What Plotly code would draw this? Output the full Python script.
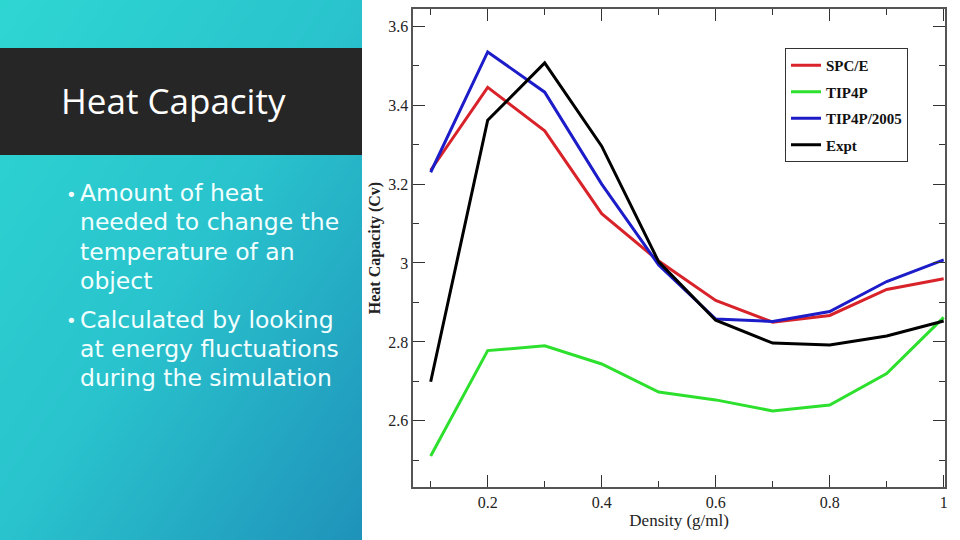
import plotly.graph_objects as go

W, H = 960, 540

density = [0.1, 0.2, 0.3, 0.4, 0.5, 0.6, 0.7, 0.8, 0.9, 1.0]
spce = [3.235, 3.445, 3.335, 3.125, 3.005, 2.905, 2.850, 2.867, 2.933, 2.960]
tip4p = [2.511, 2.778, 2.790, 2.744, 2.673, 2.653, 2.625, 2.640, 2.720, 2.862]
tip4p2005 = [3.230, 3.535, 3.433, 3.200, 2.995, 2.858, 2.852, 2.877, 2.953, 3.008]
expt = [2.699, 3.362, 3.507, 3.296, 3.003, 2.855, 2.797, 2.792, 2.815, 2.853]

series_names = ["SPC/E", "TIP4P", "TIP4P/2005", "Expt"]
series_values = [spce, tip4p, tip4p2005, expt]
series_colors = ["#d9232a", "#2ee02e", "#1c1cc8", "#000000"]

slide_title = "Heat Capacity"
bullet_lines = [
    ["Amount of heat", "needed to change the", "temperature of an", "object"],
    ["Calculated by looking", "at energy fluctuations", "during the simulation"],
]
x_title = "Density (g/ml)"
y_title = "Heat Capacity (Cv)"


def px(x):
    return x / W


def py(y):
    return 1 - y / H


fig = go.Figure()

# slide background gradient (left panel)
fig.add_trace(go.Heatmap(
    x=[0, 1], y=[0, 1], z=[[1, 2], [0, 1]],
    zsmooth="best", showscale=False, hoverinfo="skip",
    colorscale=[[0, "#2ed6d2"], [0.5, "#29c3cd"], [1, "#1f92ba"]],
    xaxis="x2", yaxis="y2",
))

for name, vals, col in zip(series_names, series_values, series_colors):
    fig.add_trace(go.Scatter(
        x=density, y=vals, mode="lines", name=name,
        line=dict(color=col, width=3), legendgroup=name,
    ))

axis_common = dict(
    showgrid=False, zeroline=False, showline=True, linecolor="#555555",
    linewidth=1.5, mirror="ticks", ticks="inside", ticklen=12,
    tickcolor="#333333", tickwidth=1.2,
    tickfont=dict(family="Liberation Serif", size=16, color="#222222"),
    automargin=False,
)

fig.update_layout(
    width=W, height=H,
    margin=dict(l=0, r=0, t=0, b=0),
    paper_bgcolor="white", plot_bgcolor="white",
    showlegend=True,
    xaxis=dict(
        domain=[px(413.3), px(945)], range=[0.0695, 1.0023], dtick=0.2, tick0=0,
        minor=dict(dtick=0.1, ticks="inside", ticklen=6, tickcolor="#333333"),
        title=dict(text=x_title, font=dict(family="Liberation Serif", size=17, color="#222222"), standoff=4),
        **axis_common,
    ),
    yaxis=dict(
        domain=[py(486.7), py(9.3)], range=[2.433, 3.643], dtick=0.2, tick0=2.6,
        minor=dict(dtick=0.1, ticks="inside", ticklen=6, tickcolor="#333333"),
        title=dict(text="<b>" + y_title + "</b>", font=dict(family="Liberation Serif", size=16, color="#222222"), standoff=4),
        **axis_common,
    ),
    xaxis2=dict(domain=[0, px(362)], range=[0, 1], visible=False, fixedrange=True),
    yaxis2=dict(domain=[0, 1], range=[0, 1], visible=False, fixedrange=True, anchor="x2"),
    legend=dict(
        x=px(785), y=py(48), xanchor="left", yanchor="top",
        bgcolor="white", bordercolor="#333333", borderwidth=1,
        font=dict(family="Liberation Serif", size=15, color="#111111", weight="bold"),
        tracegroupgap=4,
    ),
)
fig.update_layout(xaxis2_anchor="y2")

# dark title bar
fig.add_shape(type="rect", xref="paper", yref="paper",
              x0=0, x1=px(362), y0=py(155), y1=py(48),
              fillcolor="#262626", line=dict(width=0), layer="above")

annotations = [dict(
    text=slide_title, xref="paper", yref="paper", x=px(59), y=py(101),
    xanchor="left", yanchor="middle", showarrow=False,
    font=dict(family="Open Sans", size=35, color="white"),
)]

line_y = [[193, 222.5, 251.5, 281], [319.5, 349, 378]]
for lines, ys in zip(bullet_lines, line_y):
    annotations.append(dict(
        text="•", xref="paper", yref="paper", x=px(64), y=py(ys[0] + 1),
        xanchor="left", yanchor="middle", showarrow=False,
        font=dict(family="DejaVu Sans", size=18, color="#f2ffff"),
    ))
    for t, yy in zip(lines, ys):
        annotations.append(dict(
            text=t, xref="paper", yref="paper", x=px(78), y=py(yy),
            xanchor="left", yanchor="middle", showarrow=False,
            font=dict(family="DejaVu Sans", size=23.5, color="#f2ffff"),
        ))
fig.update_layout(annotations=annotations)

fig.write_html("out.html")
